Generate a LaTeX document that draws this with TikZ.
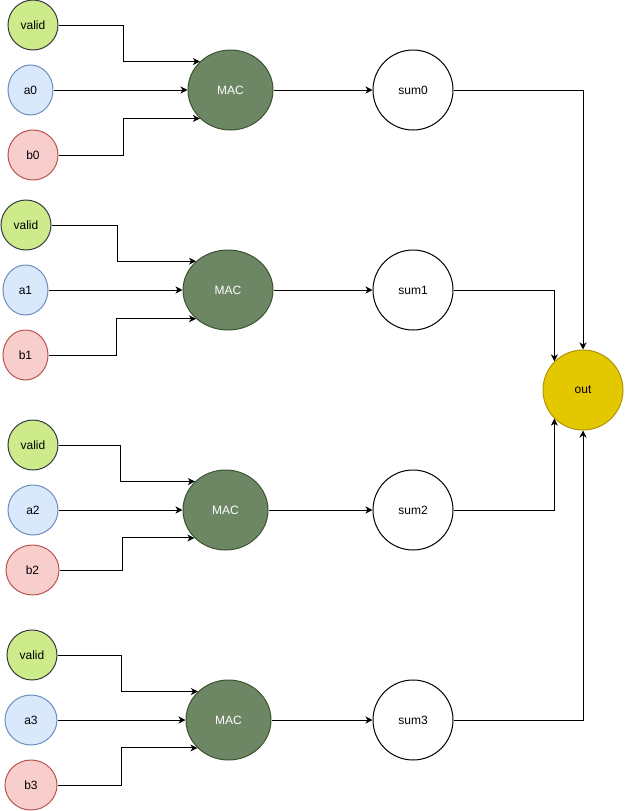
\documentclass[tikz,border=0pt]{standalone}
\usepackage{fontspec}
\setmainfont{Liberation Sans}
\usetikzlibrary{positioning, shapes.geometric, arrows.meta}

\begin{document}
\begin{tikzpicture}[
    x=1pt, y=-1pt,
    line width=1pt,
    signal/.style={ellipse, draw, minimum height=50pt, inner sep=0pt,
        font=\fontsize{12}{14}\selectfont},
    valid/.style={signal, minimum width=50pt, fill=validfill, draw=validline},
    inputa/.style={signal, fill=afill, draw=aline},
    inputb/.style={signal, fill=bfill, draw=bline},
    mac/.style={ellipse, draw=macline, fill=macfill, text=white,
        minimum width=85pt, minimum height=80pt, inner sep=0pt,
        font=\fontsize{12}{14}\selectfont},
    sumnode/.style={circle, draw, fill=white, minimum size=80pt, inner sep=0pt,
        font=\fontsize{12}{14}\selectfont},
    outnode/.style={circle, draw=outline, fill=outfill, minimum size=80pt,
        inner sep=0pt, font=\fontsize{12}{14}\selectfont},
    wire/.style={draw, -{Stealth[length=7pt, width=7pt, inset=2pt]}}
]
\definecolor{validfill}{HTML}{CDEB8B}
\definecolor{validline}{HTML}{36393D}
\definecolor{afill}{HTML}{DAE8FC}
\definecolor{aline}{HTML}{6C8EBF}
\definecolor{bfill}{HTML}{F8CECC}
\definecolor{bline}{HTML}{B85450}
\definecolor{macfill}{HTML}{6D8764}
\definecolor{macline}{HTML}{3A5431}
\definecolor{outfill}{HTML}{E3C800}
\definecolor{outline}{HTML}{B09500}

\useasboundingbox (0,0) rectangle (624,811);

% Lane 0
\node[valid] (v0) at (33,25) {valid};
\node[inputa, minimum width=45pt] (a0) at (30.5,90) {a0};
\node[inputb, minimum width=50pt] (b0) at (33,155) {b0};
\node[mac] (mac0) at (230.5,90) {MAC};
\node[sumnode] (sum0) at (413,90) {sum0};

% Lane 1
\node[valid] (v1) at (26,225) {valid};
\node[inputa, minimum width=45pt] (a1) at (25.5,290) {a1};
\node[inputb, minimum width=45pt] (b1) at (25.5,355) {b1};
\node[mac, minimum width=90pt] (mac1) at (228,290) {MAC};
\node[sumnode] (sum1) at (413,290) {sum1};

% Lane 2
\node[valid] (v2) at (33,445) {valid};
\node[inputa, minimum width=50pt] (a2) at (33,510) {a2};
\node[inputb, minimum width=53pt] (b2) at (32.5,570) {b2};
\node[mac] (mac2) at (225.5,510) {MAC};
\node[sumnode] (sum2) at (413,510) {sum2};

% Lane 3
\node[valid] (v3) at (32,655) {valid};
\node[inputa, minimum width=52pt] (a3) at (31,720) {a3};
\node[inputb, minimum width=52pt] (b3) at (31,785) {b3};
\node[mac] (mac3) at (228.5,720) {MAC};
\node[sumnode] (sum3) at (413,720) {sum3};

% Result
\node[outnode] (out) at (583,390) {out};

% Edges into the MACs
\path[wire] (v0.east) -- ++(65,0) |- (mac0.137);
\path[wire] (a0) -- (mac0);
\path[wire] (b0.east) -- ++(65,0) |- (mac0.223);

\path[wire] (v1.east) -- ++(66,0) |- (mac1.138);
\path[wire] (a1) -- (mac1);
\path[wire] (b1.east) -- ++(68,0) |- (mac1.222);

\path[wire] (v2.east) -- ++(62,0) |- (mac2.137);
\path[wire] (a2) -- (mac2);
\path[wire] (b2.east) -- ++(63,0) |- (mac2.222);

\path[wire] (v3.east) -- ++(64,0) |- (mac3.137);
\path[wire] (a3) -- (mac3);
\path[wire] (b3.east) -- ++(64,0) |- (mac3.222);

% MAC to sum
\path[wire] (mac0) -- (sum0);
\path[wire] (mac1) -- (sum1);
\path[wire] (mac2) -- (sum2);
\path[wire] (mac3) -- (sum3);

% Sums to out
\path[wire] (sum0) -| (out);
\path[wire] (sum1) -| (out.135);
\path[wire] (sum2) -| (out.225);
\path[wire] (sum3) -| (out);

\end{tikzpicture}
\end{document}
